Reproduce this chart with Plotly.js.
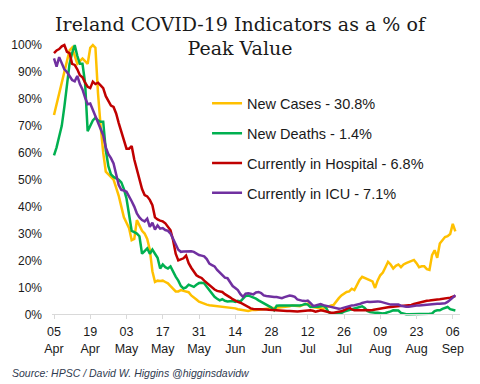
<!DOCTYPE html>
<html>
<head>
<meta charset="utf-8">
<script src="https://cdn.plot.ly/plotly-3.0.1.min.js"></script>
<style>html,body{margin:0;padding:0;background:#fff;}#chart{width:480px;height:384px;}</style>
</head>
<body>
<div id="chart"></div>
<script>
// Daily series, % of peak value, starting 5 Apr 2020
const startDate = '2020-04-05';
const seriesNames = ['New Cases - 30.8%', 'New Deaths - 1.4%', 'Currently in Hospital - 6.8%', 'Currently in ICU - 7.1%'];
const seriesColors = ['#FFC000', '#00B050', '#C00000', '#7030A0'];

const newCases = [
  74,78,83,87,91,95,98,99,96,93,
  94,95,94,93,99,100,99,82,70,60,
  53,52,51,50,47,44,40,36,34,32,
  27.5,28,35,33,31,30,28,24,16,12,
  12.5,12.4,12.5,12,11.5,10.5,9.6,8.5,8.5,9,
  8.7,8.4,8.2,7,6.4,5.5,4.7,4.3,3.8,3.6,
  3.4,3.3,3.2,3.1,3,2.9,2.8,2.7,2.6,2.4,
  2.2,1.9,1.7,1.5,1.2,1.2,1.5,1.7,1.6,1.7,
  1.8,2.0,2.1,2.1,2.2,2.3,2.5,2.6,2.7,2.7,
  2.8,3,3.3,3.2,3.1,3,3.4,3.8,4,3.5,
  2.7,2.5,2.3,2.1,2.1,2.5,3.0,3.3,3.5,5.0,
  6.0,7.0,7.7,8.3,8.5,9.5,9,11,12.8,13.9,
  13.5,13.2,12.8,12.2,9.8,12.6,14.5,15.5,17.5,19.5,
  18.5,17,18,18.5,17.5,18.5,19,19.5,19.7,20.2,
  19,17.5,17.8,17.8,16.8,16.5,22,23.8,21,26.3,
  27.5,28.7,29,29.8,33.6,30.8
];
const newDeaths = [
  59,62,66,70,77,85,93,97,100,96,
  93,93,86,68,70,72,73,72,71.5,71.5,
  61,55,52,51,50.5,50,49,46.5,43,37,
  31,30.5,30,29,22.5,23.5,24.5,22.5,24,22.5,
  21,17,18.5,17.5,17,17.8,15.7,14,12.5,10.5,
  9.6,10,11,10.5,10.2,11,11.6,11.7,11.5,10.2,
  9,7.6,6.5,5.8,5.2,5.6,5,4.8,4.8,4.9,
  4.6,5,4.8,6,6.8,7,6.6,6.4,5.8,5.2,
  4.6,4,3.5,3,2.5,1.5,3.2,3.3,3.3,3.3,
  3.3,3.2,3.2,3.3,3.3,3.3,3.5,3.8,3.6,2.7,
  2.8,2.7,2.8,3,3.2,2.5,0.8,0.3,0.3,0.3,
  0.3,0.5,1,1.2,1.6,1.9,2.2,2.6,2.8,3,
  2.4,1.2,0.8,0.6,0.6,0.6,0.5,0.3,0.5,0.7,
  1.1,1.5,1.5,1.4,0.5,0.2,0,0,0,0,
  0,0,0,0,0,0.2,0.3,1.2,1.5,1.5,
  2,2.5,2.7,1.9,1.5,1.4
];
const inHospital = [
  97,98,98.5,99.5,100,97.5,97,93,92.6,91,
  88.8,88,86,84.5,84,86.4,85.5,86,85,84,
  81,79,77.5,77,74.6,71,68,65,61.5,61.5,
  62.5,57.5,54,50,46.5,44.3,43.8,42.5,40.5,36,
  35.2,34.8,34.5,33.8,32.5,31.2,27.5,22.5,20,20.3,
  20.8,21.8,19,17.3,16,14.5,13.9,13.5,12.5,11.6,
  11,10,9.2,8.7,8.5,8.3,7.5,7,6.3,5.6,
  5,4.6,4.3,3.8,3,2.5,2.2,2,2,2,
  1.9,1.8,1.8,1.7,1.6,1.5,1.5,1.4,1.3,1.3,
  1.2,1.2,1.1,1,1,1.1,1.2,1.2,1.4,1.5,
  1.3,1,1.2,1.5,1.3,1,0.8,0.6,0.6,0.7,
  1,1.1,1.5,2,2.5,1.8,1.5,1.5,1.4,1.5,
  1.6,1.5,1.5,1.6,1.8,2,2.2,2.4,2.5,2.6,
  2.7,2.8,2.9,3,3,3.1,3.2,3.4,3.5,3.8,
  4.1,4.3,4.5,4.8,5,5.1,5.3,5.4,5.5,5.6,
  5.7,5.8,6,6.2,6.5,6.8
];
const inICU = [
  95,92,95.5,93,91,90,88.5,87,86.5,88.5,
  85.5,83.5,80.5,78,78.3,76,73.5,71.5,69,66.5,
  62,59.5,58,56,52,48,46.2,46,45.5,44,
  42,40,37.5,36,35,34.5,35.5,32.5,34,31.5,
  33,31.8,32,31.3,31,30,28.2,26,24,23.2,
  23.3,23.4,23.4,23.4,23.2,22.6,22,21.8,21.5,20.5,
  18.8,18.3,17.8,16.5,15.5,14.3,13.6,13.4,12,10.5,
  9.8,9,7.5,6.5,7.7,7.8,7.6,7.4,8.1,8.3,
  7.9,7,6.8,6.6,6.5,6.4,6.4,6.3,6,6.4,
  6.7,7,6.8,6.5,5.5,5.2,5,4.9,5.1,4.2,
  3.2,3.3,3.7,3.8,3.4,3.2,3,2.8,2.6,2.3,
  2.1,2.2,2.5,2.8,3.2,3.3,3.4,3.5,3.8,4.2,
  4.5,4.7,4.6,4.7,4.8,4.8,4.7,4.4,4.1,3.7,
  3.6,3.6,3.7,3.6,3.2,2.9,2.8,2.8,3,3.2,
  3.3,3.3,3.4,3.5,3.7,3.8,3.8,3.9,3.9,3.9,
  4,4.1,4.6,5.3,6.2,7.1
];

const tickDates = ['2020-04-05','2020-04-19','2020-05-03','2020-05-17','2020-05-31','2020-06-14','2020-06-28','2020-07-12','2020-07-26','2020-08-09','2020-08-23','2020-09-06'];
const tickLabels = ['05<br>Apr','19<br>Apr','03<br>May','17<br>May','31<br>May','14<br>Jun','28<br>Jun','12<br>Jul','26<br>Jul','09<br>Aug','23<br>Aug','06<br>Sep'];
const yTicks = [0,10,20,30,40,50,60,70,80,90,100];
const yTickLabels = ['0%','10%','20%','30%','40%','50%','60%','70%','80%','90%','100%'];

function dayList(n) {
  const out = [];
  const base = new Date(startDate + 'T00:00:00Z');
  for (let i = 0; i < n; i++) {
    const d = new Date(base.getTime() + i * 86400000);
    out.push(d.toISOString().slice(0, 10));
  }
  return out;
}
const dates = dayList(newCases.length);
const allSeries = [newCases, newDeaths, inHospital, inICU];

const traces = allSeries.map((vals, i) => ({
  type: 'scatter', mode: 'lines', x: dates, y: vals,
  name: seriesNames[i], legendgroup: 'g' + i,
  line: {color: seriesColors[i], width: 2.5},
  hoverinfo: 'skip'
}));

const yMin = -1, yMax = 101.12;
const layout = {
  width: 480, height: 384,
  margin: {l: 52, r: 20, t: 42, b: 67},
  paper_bgcolor: '#fff', plot_bgcolor: '#fff',
  showlegend: true,
  title: {
    text: 'Ireland COVID-19 Indicators as a % of<br>Peak Value',
    font: {family: 'DejaVu Serif', size: 19, color: '#1a1a1a'},
    x: 0.5, xref: 'container', xanchor: 'center',
    y: 0.92, yref: 'container', yanchor: 'middle'
  },
  xaxis: {
    type: 'date',
    range: ['2020-04-04 05:30', '2020-09-08 19:00'],
    tickvals: tickDates, ticktext: tickLabels,
    tickfont: {family: 'Liberation Sans, Arial', size: 12.5, color: '#1a1a1a'},
    showgrid: false, zeroline: false,
    showline: true, linecolor: '#d9d9d9', linewidth: 1,
    ticks: 'outside', ticklen: 4, tickcolor: '#d9d9d9',
    ticklabelstandoff: 2,
    anchor: 'free', position: (0 - yMin) / (yMax - yMin)
  },
  yaxis: {
    range: [yMin, yMax],
    tickvals: yTicks, ticktext: yTickLabels,
    tickfont: {family: 'Liberation Sans, Arial', size: 12, color: '#1a1a1a'},
    showgrid: false, zeroline: false, showline: false,
    ticks: '', ticklabelstandoff: 9
  },
  legend: {
    x: 0.38, y: 0.835, xanchor: 'left', yanchor: 'top',
    xref: 'paper', yref: 'paper',
    bgcolor: 'rgba(0,0,0,0)', borderwidth: 0,
    font: {family: 'Liberation Sans, Arial', size: 14.5, color: '#1a1a1a'},
    traceorder: 'grouped', tracegroupgap: 8
  },
  annotations: [{
    text: 'Source: HPSC / David W. Higgins @higginsdavidw',
    xref: 'paper', yref: 'paper', x: -0.103, y: -0.205,
    xanchor: 'left', yanchor: 'middle', showarrow: false,
    font: {family: 'Liberation Sans, Arial', size: 10.5, color: '#2f3a4f', style: 'italic'}
  }]
};

Plotly.newPlot('chart', traces, layout, {displayModeBar: false, staticPlot: true});
</script>
</body>
</html>
